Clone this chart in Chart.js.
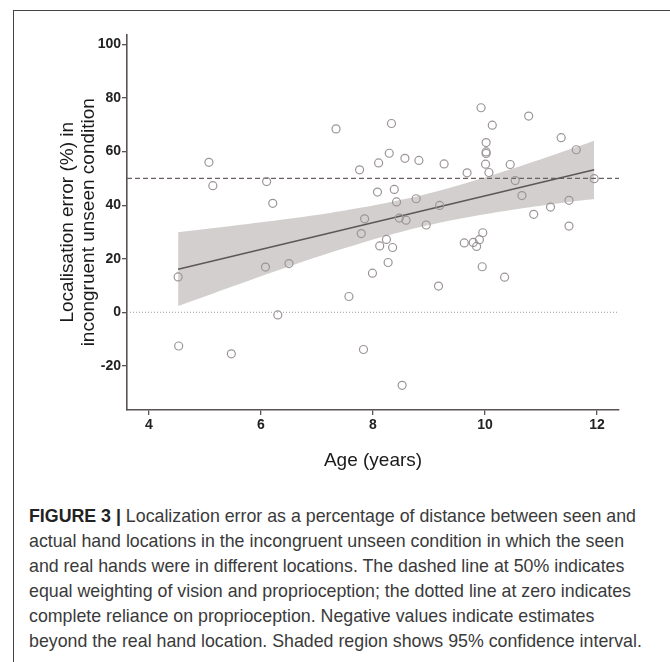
<!DOCTYPE html>
<html>
<head>
<meta charset="utf-8">
<script src="https://cdn.jsdelivr.net/npm/chart.js@4/dist/chart.umd.min.js"></script>
<style>
    html, body { margin: 0; padding: 0; background: #fff; }
    body { width: 670px; height: 662px; position: relative; overflow: hidden; font-family: 'Liberation Sans', Arial, sans-serif; }
    .frame { position: absolute; left: 13px; top: 10px; width: 670px; height: 670px; border-top: 1.5px solid #444; border-left: 1.5px solid #444; }
    .chart-wrap { position: absolute; left: 0; top: 0; width: 670px; height: 490px; }
    .caption { position: absolute; left: 29px; top: 504px; width: 640px; font-size: 17.8px; line-height: 25px; color: #3a3a3a; white-space: nowrap; }
    .caption b { color: #222; }
</style>
</head>
<body>
<div class="frame"></div>
<div class="chart-wrap"><canvas id="mainChart" width="670" height="490"></canvas></div>
<div class="caption">
    <b>FIGURE 3 |</b> Localization error as a percentage of distance between seen and<br>
    actual hand locations in the incongruent unseen condition in which the seen<br>
    and real hands were in different locations. The dashed line at 50% indicates<br>
    equal weighting of vision and proprioception; the dotted line at zero indicates<br>
    complete reliance on proprioception. Negative values indicate estimates<br>
    beyond the real hand location. Shaded region shows 95% confidence interval.
</div>
<script>
// Participants: age (years) and localisation error (%)
const ages = [4.52, 4.53, 5.07, 5.14, 5.47, 6.08, 6.10, 6.21, 6.30, 6.50,
    7.34, 7.57, 7.76, 7.79, 7.83, 7.85, 7.99, 8.08, 8.10, 8.12,
    8.24, 8.27, 8.29, 8.33, 8.35, 8.38, 8.42, 8.47, 8.52, 8.57,
    8.59, 8.77, 8.82, 8.95, 9.17, 9.19, 9.27, 9.63, 9.68, 9.79,
    9.85, 9.90, 9.93, 9.95, 9.96, 10.01, 10.02, 10.02, 10.02, 10.07,
    10.13, 10.35, 10.45, 10.54, 10.66, 10.78, 10.87, 11.17, 11.36, 11.50,
    11.50, 11.63, 11.95];
const errors = [13.2, -12.6, 56.0, 47.3, -15.5, 16.9, 48.8, 40.7, -1.0, 18.2,
    68.5, 5.9, 53.2, 29.4, -13.9, 34.9, 14.6, 44.9, 55.8, 24.8,
    27.2, 18.6, 59.4, 70.5, 24.2, 45.9, 41.2, 35.2, -27.3, 57.5,
    34.4, 42.4, 56.7, 32.6, 9.8, 39.9, 55.4, 25.9, 52.1, 26.1,
    24.6, 27.1, 76.4, 17.0, 29.7, 55.3, 63.4, 59.9, 59.3, 52.2,
    69.9, 13.1, 55.2, 49.2, 43.6, 73.3, 36.6, 39.3, 65.2, 41.8,
    32.2, 60.7, 49.9];

// Linear fit and its 95% confidence band
const fitAges = [4.52, 11.95];
const fitValues = [16.1, 53.2];
const ciAges = [4.52, 5.5, 6.5, 7.5, 8.5, 9.5, 10.5, 11.5, 11.95];
const ciUpper = [29.9, 32.3, 34.9, 38.0, 42.0, 47.3, 53.7, 60.8, 64.1];
const ciLower = [2.3, 9.7, 17.1, 24.0, 30.0, 34.7, 38.3, 41.2, 42.3];

// Reference lines
const equalWeight = 50;
const propOnly = 0;

// Axes
const xMin = 3.607, xMax = 12.393;
const yMin = -36.5, yMax = 103.75;
const xTicks = [4, 6, 8, 10, 12];
const yTicks = [-20, 0, 20, 40, 60, 80, 100];

const toPoints = (xs, ys) => xs.map((x, i) => ({ x: x, y: ys[i] }));
const hLine = v => [{ x: xMin, y: v }, { x: xMax, y: v }];

const axisColor = '#5a5252';
const tickFont = { family: "'Liberation Sans', Arial, sans-serif", size: 14, weight: 'bold' };
const titleFont = { family: "'Liberation Sans', Arial, sans-serif", size: 19, lineHeight: '20.5px' };

const ctx = document.getElementById('mainChart').getContext('2d');
new Chart(ctx, {
    type: 'scatter',
    data: {
        datasets: [
            {
                label: 'Participants',
                data: toPoints(ages, errors),
                pointStyle: 'circle',
                pointRadius: 4,
                pointBackgroundColor: 'rgba(0,0,0,0)',
                pointBorderColor: '#9c9595',
                pointBorderWidth: 1.2,
                showLine: false,
                order: 0
            },
            {
                label: 'Fit',
                type: 'line',
                data: toPoints(fitAges, fitValues),
                borderColor: '#5e5757',
                borderWidth: 1.6,
                pointRadius: 0,
                order: 1
            },
            {
                label: '50%',
                type: 'line',
                data: hLine(equalWeight),
                borderColor: '#6a6262',
                borderWidth: 1.3,
                borderDash: [5, 3],
                pointRadius: 0,
                order: 2
            },
            {
                label: 'zero',
                type: 'line',
                data: hLine(propOnly),
                borderColor: '#a09a9a',
                borderWidth: 1,
                borderDash: [1, 2],
                pointRadius: 0,
                order: 3
            },
            {
                label: 'CI upper',
                type: 'line',
                data: toPoints(ciAges, ciUpper),
                borderWidth: 0,
                borderColor: 'rgba(0,0,0,0)',
                backgroundColor: '#d3cfcf',
                fill: '+1',
                tension: 0.4,
                pointRadius: 0,
                order: 4
            },
            {
                label: 'CI lower',
                type: 'line',
                data: toPoints(ciAges, ciLower),
                borderWidth: 0,
                borderColor: 'rgba(0,0,0,0)',
                fill: false,
                tension: 0.4,
                pointRadius: 0,
                order: 5
            }
        ]
    },
    options: {
        responsive: false,
        animation: false,
        layout: { padding: { left: 0, top: 34.5, right: 51, bottom: 0 } },
        plugins: {
            legend: { display: false },
            tooltip: { enabled: false }
        },
        scales: {
            x: {
                type: 'linear',
                min: xMin,
                max: xMax,
                afterFit: s => { s.height = 80; },
                afterBuildTicks: s => { s.ticks = xTicks.map(v => ({ value: v })); },
                ticks: { color: '#222', font: tickFont, padding: 2 },
                grid: { drawOnChartArea: false, drawTicks: true, tickLength: 5, color: axisColor, lineWidth: 1.3 },
                border: { color: axisColor, width: 1.6 },
                title: { display: true, text: 'Age (years)', color: '#1a1a1a', font: { family: titleFont.family, size: 19, lineHeight: '22px' }, padding: { top: 0, bottom: 18 } }
            },
            y: {
                type: 'linear',
                min: yMin,
                max: yMax,
                afterFit: s => { s.width = 127; },
                afterBuildTicks: s => { s.ticks = yTicks.map(v => ({ value: v })); },
                ticks: { color: '#222', font: tickFont, padding: 1 },
                grid: { drawOnChartArea: false, drawTicks: true, tickLength: 5, color: axisColor, lineWidth: 1.3 },
                border: { color: axisColor, width: 1.6 },
                title: {
                    display: true,
                    text: ['Localisation error (%) in', 'incongruent unseen condition'],
                    color: '#1a1a1a',
                    font: titleFont,
                    padding: { top: 58, bottom: 0 }
                }
            }
        }
    }
});
</script>
</body>
</html>
